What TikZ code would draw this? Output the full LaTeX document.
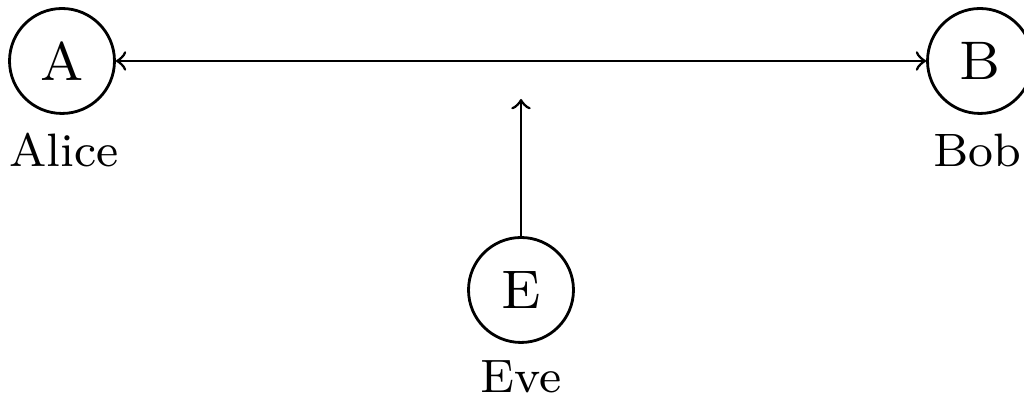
\documentclass[tikz,border=0pt]{standalone}
\usepackage{graphicx}
\newcommand\smallopt[2]{{\fontsize{8}{9}\selectfont\scalebox{#1}{#2}}}
\begin{document}
\begin{tikzpicture}[x=0.2134pt,y=-0.2134pt,
  party/.style={draw,circle,line width=0.6pt,minimum size=22.4pt,inner sep=0pt},
  whotext/.style={anchor=base,inner sep=0pt},
  conn/.style={line width=0.6pt}]
\useasboundingbox (0,0) rectangle (1024,398);
\node[party] (A) at (62,61) {\smallopt{1.45}{A}};
\node[party] (B) at (980,61) {\smallopt{1.45}{B}};
\node[party] (E) at (521,290) {\smallopt{1.45}{E}};
\node[whotext] (alice) at (64,167) {\smallopt{1.25}{Alice}};
\node[whotext] (bob) at (977,167) {\smallopt{1.25}{Bob}};
\node[whotext] (eve) at (521,393) {\smallopt{1.25}{Eve}};
\coordinate (tap) at (521,99);
\draw[conn,<->] (A) -- (B);
\draw[conn,->] (E) -- (tap);
\end{tikzpicture}
\end{document}
